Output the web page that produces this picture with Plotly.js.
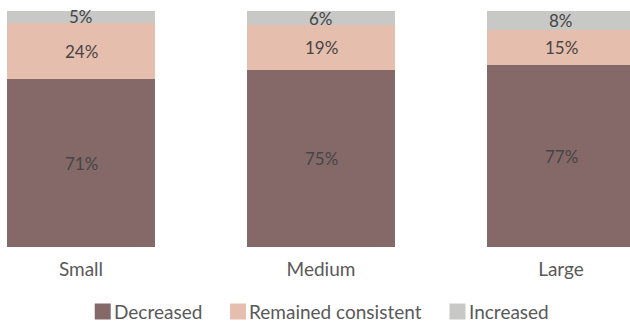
<!DOCTYPE html>
<html>
<head>
<meta charset="utf-8">
<script src="https://cdn.plot.ly/plotly-3.0.1.min.js"></script>
<style>html,body{margin:0;padding:0;background:#fff;}#chart{width:630px;height:322px;}</style>
</head>
<body>
<div id="chart"></div>
<script>
const categories = ["Small", "Medium", "Large"];
const seriesNames = ["Decreased", "Remained consistent", "Increased"];
const decreased = [71, 75, 77];
const remained = [24, 19, 15];
const increased = [5, 6, 8];
const seriesValues = [decreased, remained, increased];
const seriesColors = ["#856969", "#e6bead", "#c8c8c6"];

const W = 630, H = 322;
const M = {l: 0, r: 0, t: 11, b: 75};
const plotH = H - M.t - M.b;
const FONT = "Lato, 'Open Sans', sans-serif";

const traces = seriesValues.map((vals, i) => ({
  type: "bar",
  x: categories,
  y: vals,
  name: seriesNames[i],
  marker: {color: seriesColors[i], line: {width: 0}},
  width: 0.6167,
  hoverinfo: "none",
  showlegend: false
}));

// value labels centered in each segment
const annotations = [];
const cum = categories.map(() => 0);
seriesValues.forEach((vals) => {
  vals.forEach((v, j) => {
    annotations.push({
      x: categories[j], y: cum[j] + v / 2, xref: "x", yref: "y",
      text: v + "%", showarrow: false,
      font: {family: FONT, size: 17, color: "#454545"},
      xanchor: "center", yanchor: "middle"
    });
    cum[j] += v;
  });
});

// custom legend
const legFont = "19px Lato";
const cv = document.createElement("canvas").getContext("2d");
cv.font = legFont;
const sw = 16, swGap = 1, itemGap = 26;
const widths = seriesNames.map(n => cv.measureText(n).width + 4);
const total = widths.reduce((a, w) => a + sw + swGap + w, 0) + itemGap * (seriesNames.length - 1);
let px = 322.5 - total / 2;
const legY = 311.5;
const py2f = py => (H - M.b - py) / plotH;
const shapes = [];
seriesNames.forEach((n, i) => {
  shapes.push({
    type: "rect", xref: "paper", yref: "paper",
    x0: px / W, x1: (px + sw) / W,
    y0: py2f(legY + sw / 2), y1: py2f(legY - sw / 2),
    fillcolor: seriesColors[i], line: {width: 0}
  });
  annotations.push({
    x: (px + sw + swGap) / W, y: py2f(legY), xref: "paper", yref: "paper",
    text: n, showarrow: false, xanchor: "left", yanchor: "middle",
    font: {family: FONT, size: 19, color: "#595959"}
  });
  px += sw + swGap + widths[i] + itemGap;
});

const layout = {
  width: W, height: H,
  margin: M,
  paper_bgcolor: "#ffffff", plot_bgcolor: "#ffffff",
  barmode: "stack",
  showlegend: false,
  xaxis: {
    type: "category", range: [-0.3375, 2.2875],
    showgrid: false, zeroline: false, showline: false, ticks: "",
    ticklabelstandoff: 9,
    tickfont: {family: FONT, size: 19, color: "#595959"},
    fixedrange: true
  },
  yaxis: {
    range: [0, 100], showgrid: false, zeroline: false, showline: false,
    showticklabels: false, ticks: "", fixedrange: true
  },
  annotations: annotations,
  shapes: shapes
};

Plotly.newPlot("chart", traces, layout, {staticPlot: true, displayModeBar: false});
</script>
</body>
</html>
